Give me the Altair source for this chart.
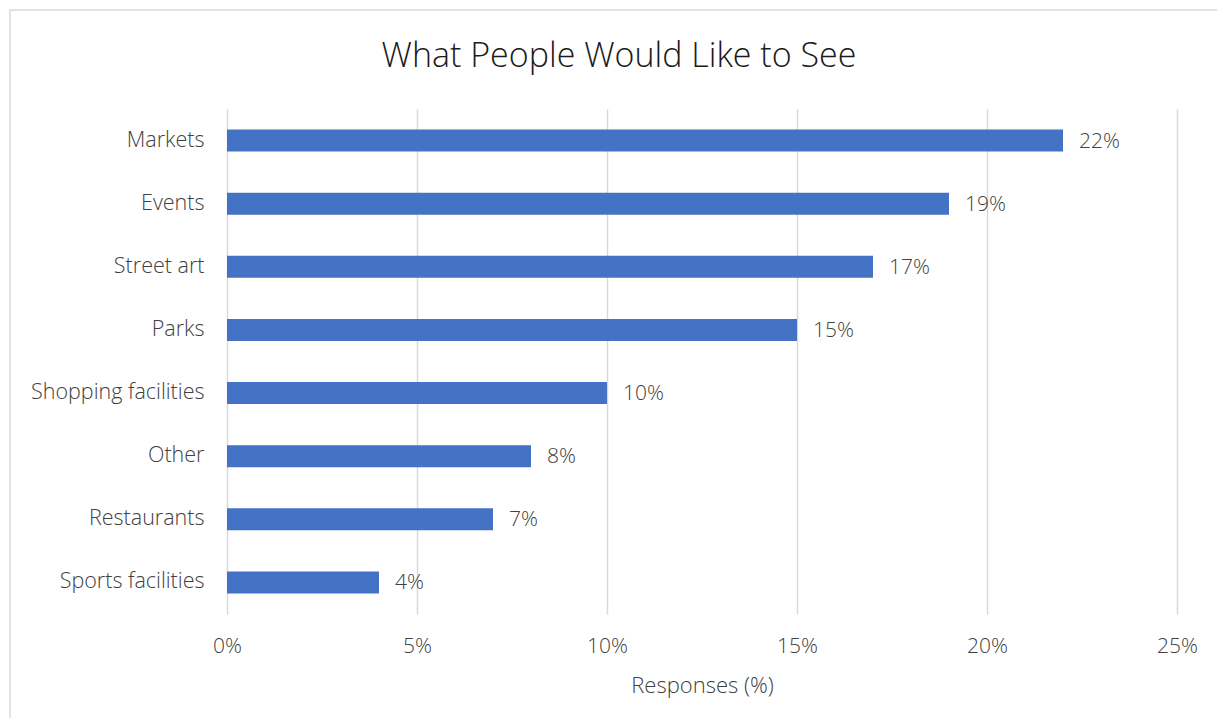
import altair as alt
import pandas as pd

categories = ["Markets", "Events", "Street art", "Parks", "Shopping facilities",
              "Other", "Restaurants", "Sports facilities"]
values = [22, 19, 17, 15, 10, 8, 7, 4]
x_ticks = [0, 5, 10, 15, 20, 25]

df = pd.DataFrame({"category": categories, "value": values})
df["label"] = df["value"].astype(str) + "%"

FONT = "Open Sans"
TXT = "#404040"

y_enc = alt.Y("category:N", sort=categories, title=None,
              scale=alt.Scale(paddingInner=0.65, paddingOuter=0.325),
              axis=alt.Axis(domain=False, ticks=False, labelFontSize=21.5,
                            labelColor=TXT, labelFont=FONT, labelPadding=23,
                            labelFontWeight=300, grid=False))
x_enc = alt.X("value:Q", title="Responses (%)",
              scale=alt.Scale(domain=[0, 25], nice=False),
              axis=alt.Axis(values=x_ticks, labelExpr="datum.value + '%'",
                            domain=False, ticks=False, grid=True,
                            gridColor="#d9d9d9", gridWidth=1.5,
                            labelFlush=False,
                            labelFontSize=21, labelColor=TXT, labelFont=FONT,
                            labelFontWeight=300, labelPadding=21,
                            titleFontSize=22, titleColor=TXT, titleFont=FONT,
                            titleFontWeight=300, titlePadding=19))

bars = alt.Chart(df).mark_bar(color="#4472C4").encode(x=x_enc, y=y_enc)
text = alt.Chart(df).mark_text(align="left", dx=16, dy=1, fontSize=21, font=FONT,
                               fontWeight=300, color=TXT).encode(
    x="value:Q", y=alt.Y("category:N", sort=categories), text="label:N")

frame = alt.Chart(pd.DataFrame({"a": [0]})).mark_rect(
    fill="transparent", stroke="#d9d9d9", strokeWidth=1.5).encode(
    x=alt.value(-217), x2=alt.value(1200), y=alt.value(-99), y2=alt.value(800))

chart = alt.layer(frame, bars, text).properties(
    width=950, height=505,
    background="white",
    autosize=alt.AutoSizeParams(type="none"),
    padding={"left": 219, "top": 101, "right": 40, "bottom": 104},
    title=alt.TitleParams("What People Would Like to See", fontSize=34,
                          font=FONT, fontWeight=300, color="#1a1a1a",
                          anchor="middle", dx=-83, offset=-65),
).configure_view(stroke=None)

chart.save("out.html", embed_options={"renderer": "svg", "actions": False})
